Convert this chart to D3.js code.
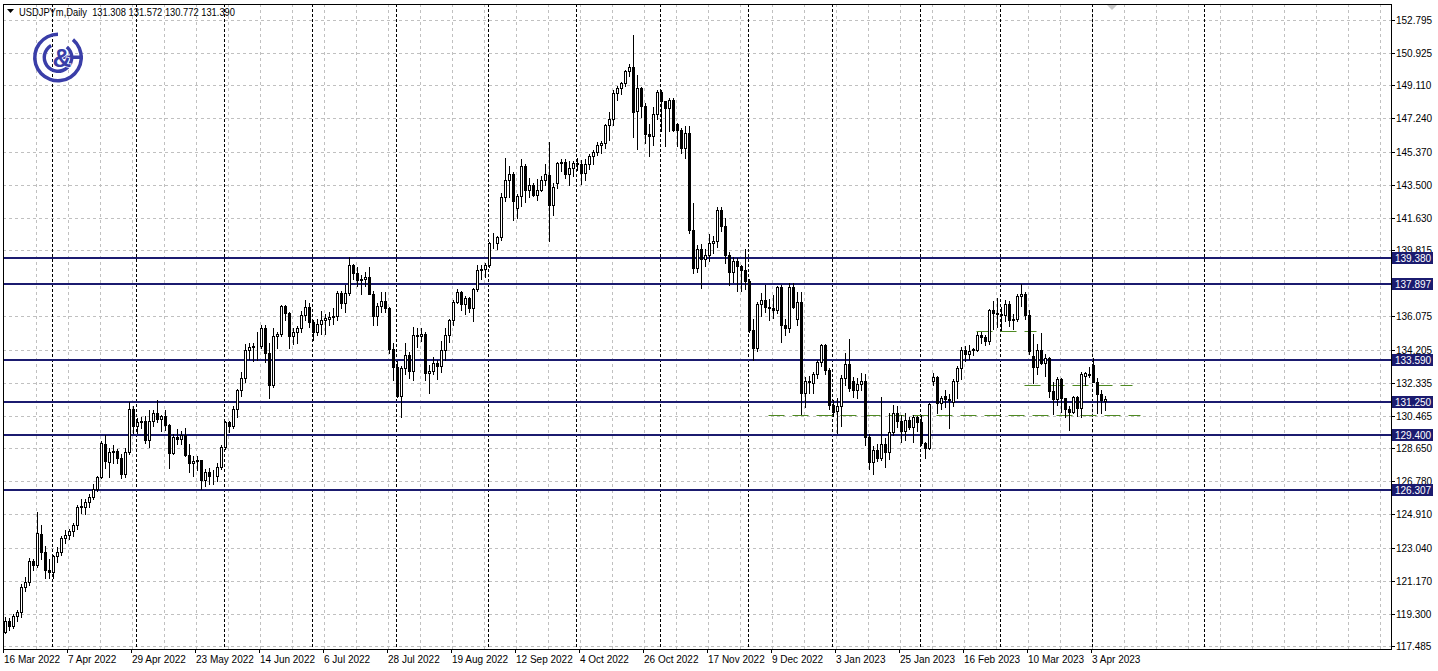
<!DOCTYPE html>
<html><head><meta charset="utf-8">
<script src="https://cdn.jsdelivr.net/npm/d3@7"></script>
<style>html,body{margin:0;padding:0;background:#fff;overflow:hidden}svg{display:block}</style>
</head><body><svg id="c" width="1438" height="671"></svg>
<script>
const symbolTitle = "USDJPYm,Daily";
const lastOHLC = ["131.308", "131.572", "130.772", "131.390"];

const open = [
118.3,118.9,118.6,119.15,119.4,120.8,121.1,122.3,122.05,123.8,
122.8,121.8,121.65,122.55,122.8,123.6,123.75,123.95,124.3,125.35,
125.35,125.6,125.9,126.35,127.0,128.9,127.85,128.4,128.5,128.1,
127.2,128.45,130.85,129.9,130.1,130.15,129.1,130.2,130.6,130.3,
130.45,129.95,128.35,129.25,129.15,129.4,128.25,127.8,127.9,127.95,
126.85,127.3,127.1,127.05,127.6,128.7,130.1,129.9,130.85,131.9,
132.6,134.2,134.35,134.4,134.4,135.45,134.0,132.2,134.95,135.1,
136.65,136.25,134.95,135.2,135.45,136.15,136.6,135.75,135.2,135.65,
135.9,135.95,136.05,136.1,137.4,136.85,137.4,138.95,138.55,138.15,
138.2,138.3,137.35,136.1,136.65,136.95,136.55,134.25,133.25,131.6,
133.15,133.9,133.0,135.0,134.95,135.1,132.9,133.0,133.45,133.3,
134.2,135.05,135.9,136.9,137.45,136.8,137.1,136.55,137.6,138.7,
138.75,138.95,140.2,140.2,140.55,142.8,143.75,144.1,142.2,142.85,
144.55,143.2,143.5,142.95,143.2,143.75,144.05,142.35,143.6,144.75,
144.8,144.1,144.45,144.75,144.65,144.15,144.65,145.1,145.35,145.75,
145.85,146.9,147.2,148.7,148.95,149.25,149.9,150.15,147.65,148.95,
147.95,146.35,146.25,147.5,148.75,148.2,147.85,148.3,146.95,146.6,
145.6,146.4,140.95,138.8,139.9,139.3,139.55,140.2,140.35,142.1,
141.2,139.55,138.6,139.2,138.9,138.7,138.1,135.3,134.3,136.75,
137.0,136.6,136.55,136.45,137.75,135.6,135.45,137.75,135.95,136.9,
131.75,132.45,132.3,132.85,133.5,134.45,133.05,131.1,130.75,131.0,
132.6,133.4,132.45,131.9,132.25,132.45,129.25,127.85,128.55,128.1,
128.9,128.4,129.55,130.65,130.15,129.6,130.25,129.85,130.4,130.1,
128.95,128.65,132.45,132.65,131.2,131.6,131.4,131.25,132.45,133.15,
134.2,133.95,134.25,134.2,135.0,134.9,134.7,136.45,136.25,136.2,
136.15,136.8,135.85,135.95,137.2,137.35,136.15,133.85,133.2,134.2,
133.45,133.75,131.85,131.4,132.55,131.45,130.85,130.7,131.55,130.9,
132.7,132.85,133.35,132.4,131.7,131.308];

const high = [
119.1,119.05,119.3,119.5,121.0,121.4,122.45,122.4,125.05,124.3,
123.15,122.4,122.6,123.05,123.7,124.05,124.1,124.45,125.45,125.75,
125.8,126.05,126.6,127.05,129.05,129.4,128.65,128.8,128.6,128.3,
128.65,131.25,131.0,130.35,130.4,130.45,130.8,130.8,131.35,130.5,
130.8,130.0,129.45,129.75,129.6,129.8,128.9,128.2,128.2,128.0,
127.45,127.55,127.4,127.8,128.8,130.2,130.2,131.0,132.0,132.95,
134.5,134.55,134.6,135.2,135.6,135.6,134.6,135.45,135.2,136.7,
136.7,136.3,135.4,135.55,136.4,137.0,136.85,135.9,135.95,136.4,
136.2,136.3,136.55,137.5,137.5,137.85,139.4,139.05,138.85,138.4,
138.6,138.85,137.5,136.85,137.45,137.45,136.6,134.55,133.55,133.3,
134.55,134.05,135.5,135.4,135.45,135.2,133.35,133.8,133.6,134.7,
135.45,135.95,137.0,137.65,137.5,137.25,137.15,137.7,138.95,139.0,
139.1,140.25,140.8,140.6,143.05,145.0,144.55,144.2,143.0,144.95,
144.7,143.9,143.6,143.8,144.0,144.7,145.9,143.6,144.8,144.95,
144.95,144.85,144.85,145.0,144.9,144.95,145.25,145.45,145.9,145.95,
146.95,147.6,148.85,149.1,149.3,149.95,150.3,151.95,149.7,149.0,
148.1,146.95,147.9,148.85,148.85,148.25,148.4,148.4,147.0,146.7,
146.8,146.8,142.5,140.1,140.15,139.9,140.75,140.6,142.25,142.25,
141.6,139.7,139.45,139.35,138.95,139.9,138.2,135.95,136.9,137.4,
137.85,137.05,137.3,137.8,137.85,135.95,137.95,137.95,137.45,137.45,
132.65,132.7,132.95,133.6,134.5,134.5,133.15,131.35,131.45,132.75,
134.0,134.8,132.65,132.6,132.9,132.85,129.45,128.75,128.9,131.55,
129.2,130.6,131.1,131.0,130.5,130.6,130.4,130.5,130.45,130.5,
129.0,131.2,132.9,132.7,131.6,131.9,131.7,132.55,133.3,134.35,
134.4,134.45,134.3,135.2,135.2,135.05,136.5,136.95,137.1,136.6,
137.0,136.95,136.2,137.35,137.9,137.45,136.45,135.1,134.5,135.15,
133.95,133.8,132.35,132.65,132.6,131.5,131.0,131.6,131.6,132.95,
132.95,133.2,133.75,132.6,131.95,131.572];

const low = [
118.2,118.4,118.5,118.9,119.1,120.6,120.9,121.8,121.95,122.4,
121.3,121.3,121.3,122.2,122.6,123.3,123.5,123.7,124.1,125.0,
124.95,125.3,125.75,126.2,126.95,127.5,127.0,127.8,127.8,126.95,
127.0,128.3,129.5,129.5,129.8,128.95,128.7,129.9,130.1,129.6,
129.65,127.5,128.3,128.9,128.9,128.2,127.3,127.05,127.4,126.35,
126.5,126.6,126.6,126.8,127.45,128.6,129.55,129.8,130.4,131.6,
132.4,133.7,133.55,133.6,134.3,133.5,131.5,132.1,134.3,134.95,
135.85,134.3,134.5,134.6,135.2,135.9,135.5,134.75,135.0,135.1,
135.1,135.6,135.65,135.9,136.55,136.3,137.3,138.2,137.8,137.35,
137.8,137.4,135.6,135.6,136.3,136.3,134.0,132.5,131.55,130.4,
132.85,132.6,132.5,134.35,134.7,132.5,131.75,132.8,132.55,132.95,
133.6,134.65,135.6,136.85,136.45,136.2,136.35,135.8,137.5,138.2,
138.3,138.85,139.95,139.85,140.4,142.6,142.8,141.5,141.65,142.3,
142.55,142.8,142.85,142.65,143.15,143.5,140.35,141.8,143.3,144.25,
143.9,143.5,144.0,144.35,143.55,143.75,144.4,144.7,145.2,145.3,
145.55,146.0,146.85,148.3,148.6,149.05,149.65,146.2,145.5,147.35,
145.85,145.1,145.75,147.2,146.55,145.7,146.55,146.55,145.7,145.3,
145.0,140.8,138.5,138.6,137.7,138.9,139.2,139.65,140.0,140.9,
139.1,137.85,138.0,137.5,137.5,137.6,135.2,133.6,134.1,136.1,
136.35,135.9,136.0,136.25,134.65,135.0,135.2,136.55,135.6,130.55,
130.95,131.75,131.75,132.6,133.3,132.85,130.85,130.45,129.5,129.9,
132.2,131.85,131.55,131.5,131.95,128.85,127.45,127.2,127.9,127.95,
127.6,128.05,129.4,129.85,129.0,129.1,129.75,129.0,129.6,128.8,
128.1,128.6,132.2,130.6,130.85,130.95,129.8,131.0,131.5,132.55,
133.55,133.65,133.9,134.1,134.55,134.45,134.5,135.35,135.5,135.3,
135.8,135.55,135.35,135.8,136.65,135.95,133.95,132.3,132.8,133.4,
132.7,131.55,130.55,131.1,130.7,130.4,129.65,130.65,130.45,130.4,
132.2,132.65,132.35,130.65,130.6,130.772];

const close = [
118.9,118.6,119.15,119.4,120.8,121.1,122.3,122.05,123.85,122.8,
121.8,121.65,122.55,122.8,123.6,123.75,123.95,124.3,125.35,125.4,
125.6,125.9,126.35,127.0,128.95,127.9,128.4,128.5,128.1,127.2,
128.45,130.85,129.9,130.1,130.15,129.1,130.2,130.6,130.3,130.45,
129.95,128.35,129.25,129.15,129.4,128.25,127.8,127.9,127.95,126.85,
127.3,127.1,127.05,127.6,128.7,130.1,129.9,130.85,131.9,132.6,
134.2,134.35,134.4,134.4,135.45,134.0,132.2,134.95,135.1,136.65,
136.25,134.95,135.2,135.45,136.15,136.6,135.75,135.2,135.65,135.9,
136.0,136.05,136.1,137.4,136.85,137.4,138.95,138.55,138.15,138.2,
138.3,137.35,136.1,136.65,136.95,136.55,134.25,133.25,131.6,133.15,
133.9,133.0,135.0,134.95,135.1,132.9,133.0,133.45,133.3,134.2,
135.05,135.9,136.9,137.45,136.8,137.1,136.55,137.6,138.7,138.75,
138.95,140.2,140.2,140.55,142.8,143.75,144.1,142.6,142.85,144.55,
143.2,143.5,142.95,143.2,143.75,144.1,142.35,143.35,144.75,144.8,
144.1,144.45,144.75,144.65,144.15,144.65,145.1,145.35,145.75,145.85,
146.85,147.2,148.7,148.95,149.25,149.9,150.15,147.6,148.95,147.95,
146.35,146.25,147.5,148.75,148.2,147.85,148.3,146.6,146.6,145.6,
146.4,140.95,138.8,139.9,139.3,139.55,140.2,140.35,142.1,141.2,
139.55,138.6,139.2,138.9,138.7,138.1,135.3,134.3,136.75,137.0,
136.6,136.55,136.45,137.75,135.6,135.45,137.75,136.6,136.9,131.75,
132.45,132.4,132.85,133.5,134.45,133.05,131.1,130.7,131.0,132.6,
133.4,132.05,131.9,132.25,132.45,129.25,127.85,128.55,128.1,128.9,
128.4,129.55,130.65,130.15,129.6,130.25,129.85,130.4,130.1,128.95,
128.65,131.15,132.65,131.2,131.45,131.4,131.35,132.45,133.15,134.2,
133.95,134.15,134.2,135.0,134.9,134.7,136.45,136.25,136.2,136.15,
136.8,135.85,135.95,137.2,137.35,136.15,134.1,133.2,134.2,133.45,
133.75,131.85,131.4,132.55,131.45,130.85,130.7,131.55,130.9,132.85,
132.9,132.75,132.4,131.7,131.35,131.390];

const priceTicks = [152.795,150.925,149.110,147.240,145.370,143.500,141.630,139.815,137.945,136.075,
  134.205,132.335,130.465,128.650,126.780,124.910,123.040,121.170,119.300,117.485];
const priceTickLabels = ["152.795","150.925","149.110","147.240","145.370","143.500","141.630","139.815","137.945","136.075",
  "134.205","132.335","130.465","128.650","126.780","124.910","123.040","121.170","119.300","117.485"];

const dateTickIndex = [0,16,32,48,64,80,96,112,128,144,160,176,192,208,224,240,256,272];
const dateTickLabels = ["16 Mar 2022","7 Apr 2022","29 Apr 2022","23 May 2022","14 Jun 2022","6 Jul 2022",
  "28 Jul 2022","19 Aug 2022","12 Sep 2022","4 Oct 2022","26 Oct 2022","17 Nov 2022","9 Dec 2022",
  "3 Jan 2023","25 Jan 2023","16 Feb 2023","10 Mar 2023","3 Apr 2023"];

const monthSeparators = [12,33,55,77,98,121,143,164,186,207,229,249,272,300];

const levelPrices = [139.380,137.897,133.590,131.250,129.400,126.307];
const levelLabels = ["139.380","137.897","133.590","131.250","129.400","126.307"];

const guidePrices = [130.52,132.19,135.24];
const guideFrom = [191,255,243];
const guideTo = [284,282,258];

// ---------- layout ----------
const W = 1438, H = 671;
const L = 3, R = 1391, T = 4, B = 649;
const svg = d3.select("#c");
const font = "'Liberation Sans', Arial, sans-serif";

const y = d3.scaleLinear().domain([117.485, 152.795]).range([646, 20]);
const x = d3.scaleLinear().domain([0, 1]).range([4.5, 8.5]);
const py = v => Math.round(y(v)) + 0.5;

svg.append("rect").attr("width", W).attr("height", H).attr("fill", "#fff");
svg.append("defs").append("clipPath").attr("id", "plot")
  .append("rect").attr("x", L + 1).attr("y", T + 1).attr("width", R - L - 1).attr("height", B - T - 1);

const g = svg.append("g").attr("clip-path", "url(#plot)");

// grid
const gridV = d3.range(8, 348, 8);
g.selectAll(".gv").data(gridV).join("line")
  .attr("x1", d => x(d)).attr("x2", d => x(d)).attr("y1", T).attr("y2", B)
  .attr("stroke", "#c0c0c0").attr("stroke-width", 1).attr("stroke-dasharray", "3,3");
g.selectAll(".gh").data(priceTicks).join("line")
  .attr("x1", L).attr("x2", R).attr("y1", d => py(d)).attr("y2", d => py(d))
  .attr("stroke", "#c0c0c0").attr("stroke-width", 1).attr("stroke-dasharray", "3,3");
// month separators
g.selectAll(".ms").data(monthSeparators).join("line")
  .attr("x1", d => x(d)).attr("x2", d => x(d)).attr("y1", T).attr("y2", B)
  .attr("stroke", "#000").attr("stroke-width", 1).attr("stroke-dasharray", "3,2");

// logo
const logoColor = "#3a3ea8";
const deg = Math.PI / 180;
const lg = svg.append("g").attr("transform", "translate(58,57.5)");
lg.append("path").attr("d", d3.arc().innerRadius(21.5).outerRadius(25).startAngle(40 * deg).endAngle(360 * deg)()).attr("fill", logoColor);
lg.append("path").attr("d", d3.arc().innerRadius(12).outerRadius(15.5).startAngle(40 * deg).endAngle(330 * deg)()).attr("fill", logoColor);
lg.append("rect").attr("x", 4).attr("y", -2).attr("width", 21).attr("height", 3.5).attr("fill", logoColor);
lg.append("text").attr("x", 4).attr("y", 9).attr("text-anchor", "middle")
  .attr("font-family", font).attr("font-size", 26).attr("font-weight", "bold")
  .attr("fill", logoColor).attr("stroke", "#fff").attr("stroke-width", 1.5).attr("paint-order", "stroke").text("&");

// level lines
g.selectAll(".lv").data(levelPrices).join("line")
  .attr("x1", L).attr("x2", R).attr("y1", d => Math.round(y(d))).attr("y2", d => Math.round(y(d)))
  .attr("stroke", "#1b1b6f").attr("stroke-width", 2);

// guide dashed lines
g.selectAll(".gd").data(guidePrices).join("line")
  .attr("x1", (d, i) => x(guideFrom[i])).attr("x2", (d, i) => x(guideTo[i]))
  .attr("y1", d => py(d)).attr("y2", d => py(d))
  .attr("stroke", "#4f8a22").attr("stroke-width", 1).attr("stroke-dasharray", "16,8");

// candles
const idx = d3.range(open.length);
const cg = g.append("g");
cg.selectAll(".wick").data(idx).join("line")
  .attr("x1", i => Math.round(x(i)) + 0.5).attr("x2", i => Math.round(x(i)) + 0.5)
  .attr("y1", i => Math.round(y(high[i]))).attr("y2", i => Math.round(y(low[i])) + 1)
  .attr("stroke", "#000").attr("stroke-width", 1);
cg.selectAll(".body").data(idx).join("rect")
  .attr("x", i => Math.round(x(i)) - 0.5)
  .attr("y", i => Math.round(y(Math.max(open[i], close[i]))) + 0.5)
  .attr("width", 2)
  .attr("height", i => Math.max(0, Math.round(y(Math.min(open[i], close[i]))) - Math.round(y(Math.max(open[i], close[i])))))
  .attr("fill", i => close[i] >= open[i] ? "#fff" : "#000")
  .attr("stroke", "#000").attr("stroke-width", 1);

// frame
svg.append("rect").attr("x", L + 0.5).attr("y", T + 0.5).attr("width", R - L).attr("height", B - T)
  .attr("fill", "none").attr("stroke", "#000").attr("stroke-width", 1);

// price axis
const ax = svg.append("g");
ax.selectAll(".pt").data(priceTicks).join("line")
  .attr("x1", R + 0.5).attr("x2", R + 4).attr("y1", d => py(d)).attr("y2", d => py(d))
  .attr("stroke", "#000");
ax.selectAll(".pl").data(priceTicks).join("text")
  .attr("x", R + 5).attr("y", d => py(d)).attr("dy", "0.35em")
  .attr("font-family", font).attr("font-size", 10).attr("fill", "#000")
  .text((d, i) => priceTickLabels[i]);

// level boxes
const lb = svg.append("g");
lb.selectAll("rect").data(levelPrices).join("rect")
  .attr("x", R + 1).attr("y", d => Math.round(y(d)) - 6).attr("width", 41).attr("height", 12)
  .attr("fill", "#1b1b6f");
lb.selectAll("text").data(levelPrices).join("text")
  .attr("x", R + 4).attr("y", d => Math.round(y(d))).attr("dy", "0.36em")
  .attr("font-family", font).attr("font-size", 10).attr("fill", "#fff")
  .text((d, i) => levelLabels[i]);

// date axis
const dx = svg.append("g");
dx.selectAll("line").data(dateTickIndex).join("line")
  .attr("x1", d => Math.round(x(d)) - 1.5).attr("x2", d => Math.round(x(d)) - 1.5)
  .attr("y1", B).attr("y2", B + 4).attr("stroke", "#000");
dx.selectAll("text").data(dateTickIndex).join("text")
  .attr("x", d => Math.round(x(d)) - 1).attr("y", B + 14)
  .attr("font-family", font).attr("font-size", 10).attr("fill", "#000")
  .text((d, i) => dateTickLabels[i]);

// shift marker
svg.append("path").attr("d", "M1107,5 L1117,5 L1112,10 Z").attr("fill", "#c8c8c8");

// header
svg.append("path").attr("d", "M7,9 L14,9 L10.5,13 Z").attr("fill", "#000");
svg.append("text").attr("x", 19).attr("y", 16)
  .attr("font-family", font).attr("font-size", 10.5).attr("fill", "#000")
  .attr("xml:space", "preserve")
  .attr("textLength", 216).attr("lengthAdjust", "spacingAndGlyphs")
  .text(symbolTitle + "  " + lastOHLC.join(" "));
</script></body></html>
